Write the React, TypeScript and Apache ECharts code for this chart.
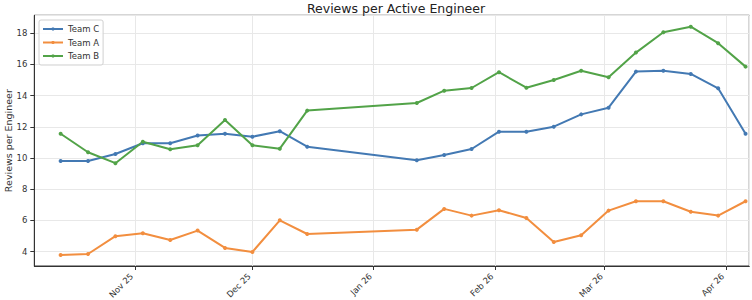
import React, { useEffect, useRef } from "react";
import * as echarts from "echarts";

// Weekly snapshot dates (Mondays); no snapshots over the holiday break
const weeks: string[] = [
  "2025-10-13", "2025-10-20", "2025-10-27", "2025-11-03", "2025-11-10",
  "2025-11-17", "2025-11-24", "2025-12-01", "2025-12-08", "2025-12-15",
  "2026-01-12", "2026-01-19", "2026-01-26", "2026-02-02", "2026-02-09",
  "2026-02-16", "2026-02-23", "2026-03-02", "2026-03-09", "2026-03-16",
  "2026-03-23", "2026-03-30", "2026-04-06",
];

const teamC: number[] = [
  9.81, 9.81, 10.26, 10.95, 10.95, 11.44, 11.56, 11.37, 11.72, 10.73,
  9.86, 10.2, 10.58, 11.69, 11.69, 12.01, 12.8, 13.23, 15.54, 15.6,
  15.39, 14.47, 11.56,
];

const teamA: number[] = [
  3.79, 3.85, 4.99, 5.18, 4.75, 5.35, 4.24, 3.98, 6.01, 5.13,
  5.41, 6.74, 6.31, 6.65, 6.16, 4.62, 5.05, 6.63, 7.23, 7.23,
  6.56, 6.31, 7.23,
];

const teamB: number[] = [
  11.56, 10.37, 9.67, 11.05, 10.56, 10.82, 12.44, 10.82, 10.6, 13.04,
  13.53, 14.32, 14.49, 15.5, 14.51, 15.0, 15.6, 15.18, 16.76, 18.06,
  18.42, 17.36, 15.86,
];

const seriesNames: string[] = ["Team C", "Team A", "Team B"];
const seriesColors: string[] = ["#4379b3", "#f28e3f", "#52a348"];

const toTime = (s: string): number => {
  const [y, m, d] = s.split("-").map(Number);
  return new Date(y, m - 1, d).getTime();
};

const MONTHS = ["Jan", "Feb", "Mar", "Apr", "May", "Jun", "Jul", "Aug", "Sep", "Oct", "Nov", "Dec"];

export default function App() {
  const ref = useRef<HTMLDivElement>(null);

  useEffect(() => {
    if (!ref.current) return;
    const chart = echarts.init(ref.current, undefined, { renderer: "svg" });
    const font = "DejaVu Sans";
    const values = [teamC, teamA, teamB];

    chart.setOption({
      animation: false,
      textStyle: { fontFamily: font },
      title: {
        text: "Reviews per Active Engineer",
        left: 391,
        top: -3,
        textAlign: "center",
        textStyle: { fontFamily: font, fontSize: 12.5, fontWeight: "normal", color: "#222" },
      },
      legend: {
        data: seriesNames,
        orient: "vertical",
        left: 39,
        top: 20,
        itemWidth: 20,
        itemHeight: 4,
        itemGap: 1.5,
        padding: [3, 4, 3, 3],
        borderColor: "#d0d0d0",
        borderWidth: 1,
        borderRadius: 2,
        backgroundColor: "rgba(255,255,255,0.85)",
        textStyle: { fontFamily: font, fontSize: 8.5, color: "#333", lineHeight: 12 },
      },
      grid: {
        left: 34.3,
        right: 2.7,
        top: 15.3,
        bottom: 34,
        containLabel: false,
        outerBoundsMode: "none",
        show: true,
        borderColor: "#333",
        borderWidth: 1,
        backgroundColor: "transparent",
      },
      xAxis: {
        type: "time",
        min: new Date(2025, 9, 6, 6, 30).getTime(),
        max: new Date(2026, 3, 6, 23, 0).getTime(),
        minInterval: 28 * 86400000,
        maxInterval: 31 * 86400000,
        splitNumber: 6,
        axisLine: { show: true, lineStyle: { color: "#333", width: 1 } },
        axisTick: { show: true, inside: false, length: 4, lineStyle: { color: "#333" } },
        splitLine: { show: true, lineStyle: { color: "#e8e8e8", width: 1 } },
        minorTick: { show: false },
        axisLabel: {
          rotate: 45,
          margin: 12,
          align: "right",
          verticalAlign: "bottom",
          fontSize: 8.5,
          color: "#333",
          fontFamily: font,
          hideOverlap: false,
          showMinLabel: false,
          showMaxLabel: false,
          formatter: (v: number) => {
            const d = new Date(v);
            return `${MONTHS[d.getMonth()]} ${String(d.getFullYear()).slice(2)}`;
          },
        },
      },
      yAxis: {
        type: "value",
        min: 3.08,
        max: 19.15,
        splitNumber: 8,
        name: "Reviews per Engineer",
        nameLocation: "middle",
        nameGap: 21,
        nameMoveOverlap: false,
        nameTextStyle: { fontFamily: font, fontSize: 9.5, color: "#333" },
        axisLine: { show: true, lineStyle: { color: "#333", width: 1 } },
        axisTick: { show: true, inside: false, length: 4, lineStyle: { color: "#333" } },
        splitLine: { show: true, lineStyle: { color: "#e8e8e8", width: 1 } },
        axisLabel: {
          margin: 7,
          fontSize: 8.5,
          color: "#333",
          fontFamily: font,
          showMinLabel: false,
          showMaxLabel: false,
          formatter: (v: number) => (Math.abs(v - Math.round(v)) < 1e-6 ? String(Math.round(v)) : ""),
        },
      },
      series: seriesNames.map((name, i) => ({
        name,
        type: "line",
        data: weeks.map((w, j) => [toTime(w), values[i][j]]),
        symbol: "circle",
        symbolSize: 4,
        showSymbol: true,
        lineStyle: { color: seriesColors[i], width: 2 },
        itemStyle: { color: seriesColors[i] },
        emphasis: { disabled: true },
      })),
    });

    return () => chart.dispose();
  }, []);

  return (
    <div
      ref={ref}
      style={{ position: "fixed", left: 0, top: 0, width: 752, height: 300, background: "#fff" }}
    />
  );
}
